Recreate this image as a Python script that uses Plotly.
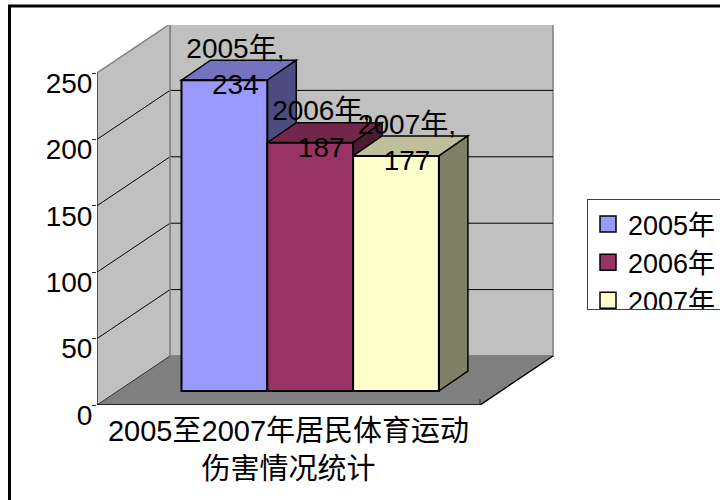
import plotly.graph_objects as go

# --- data ---
series_names = ["2005年", "2006年", "2007年"]
series_values = [234, 187, 177]
series_colors = ["#9999FF", "#993366", "#FFFFCC"]
value_ticks = [0, 50, 100, 150, 200, 250]
category_label = "2005至2007年居民体育运动<br>伤害情况统计"

# --- layout geometry ---
W, H = 720, 500
LEFT, FRONT_RIGHT, RIGHT = 97, 480, 555
BOTTOM, TOP = 405, 25
PX_X = FRONT_RIGHT - LEFT            # pixels per x unit
PX_Y = (BOTTOM - 73) / 250           # pixels per value unit
x_max = (RIGHT - LEFT) / PX_X
y_max = (BOTTOM - TOP) / PX_Y

WALL_DX, WALL_DY = 73 / PX_X, 49 / PX_Y     # depth of the chart box
BAR_DX, BAR_DY = 29 / PX_X, 20 / PX_Y       # depth of a bar
BAR_BASE = 14 / PX_Y                        # front face sits above the floor edge
BAR_W = 85.8 / PX_X
BAR_START = 84.5 / PX_X

FONT = "Liberation Sans, Arial, Noto Sans CJK SC, sans-serif"
WALL, FLOOR, EDGE = "#C0C0C0", "#808080", "#808080"


def shade(color, k):
    r, g, b = (int(color[i:i + 2], 16) for i in (1, 3, 5))
    return f"rgb({r * k:.0f},{g * k:.0f},{b * k:.0f})"


def poly(points, fill=None, line=None, width=1):
    path = "M" + "L".join(f"{x},{y}" for x, y in points) + ("Z" if fill else "")
    return dict(type="path", path=path, xref="x", yref="y", layer="below",
                fillcolor=fill or "rgba(0,0,0,0)",
                line=dict(color=line or "rgba(0,0,0,0)", width=width))


shapes = [dict(type="rect", xref="paper", yref="paper", layer="below",
               x0=9.5 / W, x1=(W + 20) / W, y0=-20 / H, y1=1 - 6 / H,
               line=dict(color="black", width=3), fillcolor="white")]

# walls and floor
vtop = value_ticks[-1]
shapes += [
    poly([(WALL_DX, WALL_DY), (1 + WALL_DX, WALL_DY), (1 + WALL_DX, vtop + WALL_DY), (WALL_DX, vtop + WALL_DY)], WALL, EDGE, 1.5),
    poly([(0, 0), (WALL_DX, WALL_DY), (WALL_DX, vtop + WALL_DY), (0, vtop)], WALL),
    poly([(0, 0), (1, 0), (1 + WALL_DX, WALL_DY), (WALL_DX, WALL_DY)], FLOOR),
]
for v in value_ticks[1:-1]:
    shapes.append(poly([(0, v), (WALL_DX, v + WALL_DY), (1 + WALL_DX, v + WALL_DY)], None, "black", 1))
shapes += [
    poly([(0, vtop), (WALL_DX, vtop + WALL_DY)], None, EDGE, 1.5),
    poly([(WALL_DX, 0 + WALL_DY), (WALL_DX, vtop + WALL_DY)], None, EDGE, 1.5),
    poly([(WALL_DX, WALL_DY), (1 + WALL_DX, WALL_DY)], None, EDGE, 1.5),
    poly([(0, 0), (0, vtop)], None, "#303030", 1.5),
    poly([(0, 0), (WALL_DX, WALL_DY)], None, "#303030", 1),
    poly([(0, 0), (1, 0), (1 + WALL_DX, WALL_DY)], None, "black", 1.5),
    poly([(1, 0), (1, 4.5)], None, "#303030", 1),
]

fig = go.Figure()
label_x, label_y, label_text = [], [], []
for i, (name, val, col) in enumerate(zip(series_names, series_values, series_colors)):
    x0 = BAR_START + i * BAR_W
    x1 = x0 + BAR_W
    top = BAR_BASE + val
    # top and side faces of the block
    shapes.append(poly([(x0, top), (x1, top), (x1 + BAR_DX, top + BAR_DY), (x0 + BAR_DX, top + BAR_DY)],
                       shade(col, 0.75), "black", 1.5))
    shapes.append(poly([(x1, BAR_BASE), (x1 + BAR_DX, BAR_BASE + BAR_DY), (x1 + BAR_DX, top + BAR_DY), (x1, top)],
                       shade(col, 0.5), "black", 1.5))
    fig.add_trace(go.Bar(x=[(x0 + x1) / 2], y=[val], base=[BAR_BASE], width=[BAR_W], name=name,
                         marker=dict(color=col, line=dict(color="black", width=2)),
                         showlegend=False, hoverinfo="skip"))
    fig.add_trace(go.Scatter(x=[None], y=[None], mode="markers", name=name,
                             marker=dict(symbol="square", size=16, color=col, line=dict(color="black", width=1.5))))
    label_x.append((x0 + x1) / 2 + 11 / PX_X)
    label_y.append(top + 8.3)
    label_text.append(f"{name},<br>{val}")

fig.add_trace(go.Scatter(x=label_x, y=label_y, text=label_text, mode="text", textposition="middle center",
                         textfont=dict(family=FONT, size=28, color="black"), cliponaxis=False,
                         showlegend=False, hoverinfo="skip"))

fig.update_layout(
    width=W, height=H,
    margin=dict(l=0, r=0, t=0, b=0, pad=0, autoexpand=False),
    paper_bgcolor="white", plot_bgcolor="rgba(0,0,0,0)",
    barmode="overlay", shapes=shapes,
    font=dict(family=FONT, color="black"),
    xaxis=dict(domain=[LEFT / W, RIGHT / W], range=[0, x_max], showgrid=False, zeroline=False, showline=False,
               tickmode="array", tickvals=[0.5], ticktext=[category_label], ticks="",
               tickangle=0, tickfont=dict(family=FONT, size=29), ticklabelstandoff=6),
    yaxis=dict(domain=[1 - BOTTOM / H, 1 - TOP / H], range=[0, y_max], showgrid=False, zeroline=False, showline=False,
               tickmode="array", tickvals=value_ticks, ticks="outside", ticklen=4, tickcolor="#303030", tickwidth=1,
               tickfont=dict(family=FONT, size=28), ticklabelshift=10, ticklabelstandoff=-6),
    legend=dict(x=587 / W, y=1 - 199 / H, xanchor="left", yanchor="top", maxheight=111,
                bgcolor="white", bordercolor="#404040", borderwidth=1, tracegroupgap=0,
                font=dict(family=FONT, size=27, color="black")),
)

fig.write_html("out.html", post_script="document.body.style.margin='0';", config=dict(displayModeBar=False))
